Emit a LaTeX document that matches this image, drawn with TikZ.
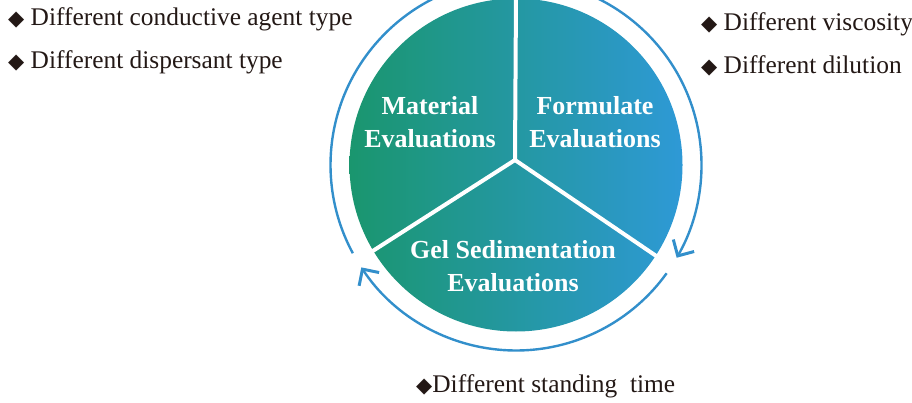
\documentclass[tikz,border=0pt]{standalone}
\usepackage{fontspec}
\setmainfont{Liberation Serif}
\newfontfamily\symfont{DejaVu Sans}
\usetikzlibrary{arrows.meta,positioning}

\definecolor{ringblue}{RGB}{50,143,203}
\definecolor{leafgreen}{RGB}{26,150,110}
\definecolor{skyblue}{RGB}{46,153,214}
\definecolor{inkbrown}{RGB}{35,24,21}

\newcommand{\bul}{{\symfont\fontsize{21}{21}\selectfont ◆}}

\tikzset{
  stage/.style={text=white, align=center, font=\fontsize{26}{33}\selectfont\bfseries},
  note/.style={text=inkbrown, anchor=west, inner sep=0pt, font=\fontsize{25.4}{25.4}\selectfont},
  cycle/.style={ringblue, line width=2.4pt, -{Straight Barb[length=12pt,width=24pt,line width=3pt]}},
  spoke/.style={white, line width=4pt},
}

\begin{document}
\begin{tikzpicture}[x=1pt,y=1pt]
    \useasboundingbox (0,0) rectangle (912,402);
    \coordinate (hub) at (516,237);
    \coordinate (joint) at (515,242);
    % disk and spokes
    \shade[left color=leafgreen, right color=skyblue] (hub) circle (166.5);
    \draw[spoke] (joint) -- ([shift={(90:170)}]hub);
    \draw[spoke] (joint) -- ([shift={(211:170)}]hub);
    \draw[spoke] (joint) -- ([shift={(-33:170)}]hub);
    % ring arrows
    \draw[cycle] ([shift={(95:185.5)}]hub) arc (95:-30:185.5);
    \draw[cycle] ([shift={(-35.7:185.5)}]hub) arc (-35.7:-146.5:185.5);
    \draw[cycle] ([shift={(208.4:185.5)}]hub) arc (208.4:100:185.5);
    % stages
    \node[stage] (material) at (430,280) {Material\\Evaluations};
    \node[stage] (formulate) at (595,280) {Formulate\\Evaluations};
    \node[stage] (gel) at (513,136) {Gel Sedimentation\\Evaluations};
    % notes
    \node[note] (conductive) at (8,383) {\bul\ Different conductive agent type};
    \node[note] (dispersant) [below=43pt of conductive.west, anchor=west] {\bul\ Different dispersant type};
    \node[note] (viscosity) at (701,378) {\bul\ Different viscosity};
    \node[note] (dilution) [below=42pt of viscosity.west, anchor=west] {\bul\ Different dilution};
    \node[note] (standing) at (416,16) {\bul Different standing~ time};
\end{tikzpicture}
\end{document}
